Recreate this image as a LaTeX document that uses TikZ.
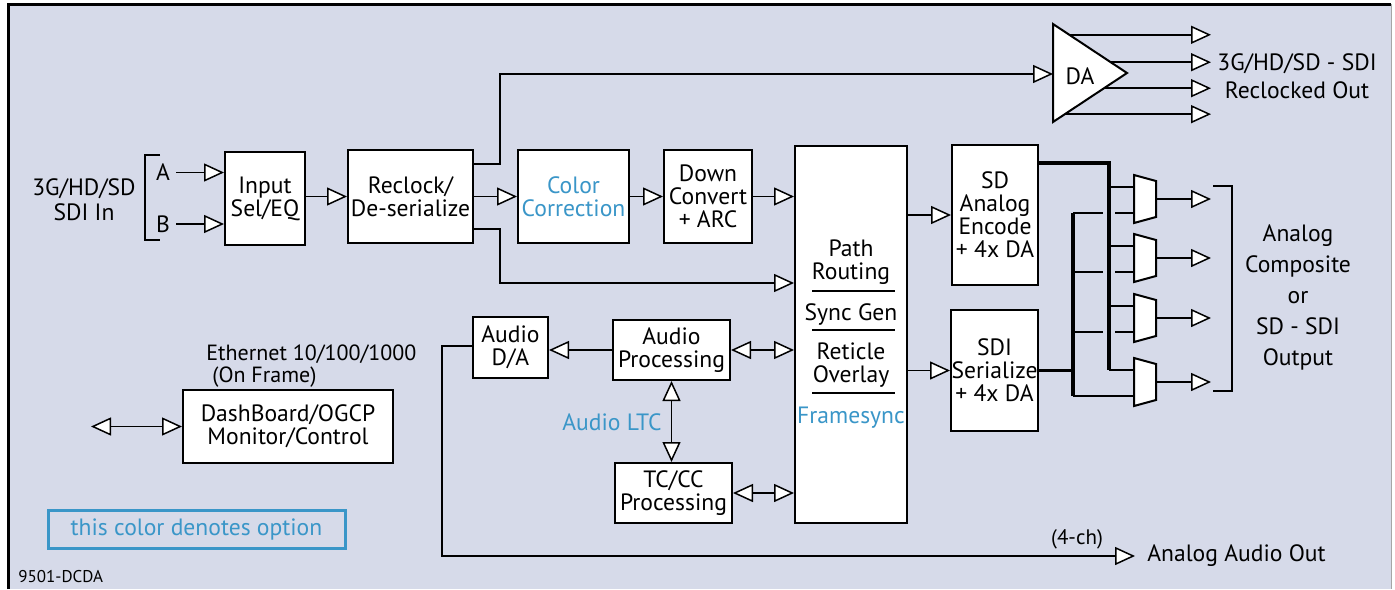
\documentclass[tikz,border=0pt]{standalone}
\usepackage{fontspec}
\setmainfont{PT Sans}
\usetikzlibrary{arrows.meta,calc}
\definecolor{bgpanel}{HTML}{D6DAE9}
\definecolor{optblue}{HTML}{3A96C8}
\newcommand\dgfont{\fontsize{11.8}{11.5}\selectfont}
\begin{document}
\begin{tikzpicture}[x=0.5pt, y=-0.5pt, line join=miter, >={Triangle[fill=white,length=10pt,width=9pt]},
  blk/.style={draw, fill=white, line width=1pt, align=center, inner sep=0pt, font=\dgfont},
  txt/.style={align=center, inner sep=0pt, font=\dgfont},
  wire/.style={line width=0.75pt},
  bus/.style={line width=1.6pt},
  opt/.style={text=optblue}]
\useasboundingbox (0,0) rectangle (1395,589);
\fill[bgpanel] (8,4) rectangle (1391,589);
\draw[line width=1.5pt] (8,589) -- (8,4) -- (1391,4);
\draw[gray!70, line width=0.5pt] (1391,4) -- (1391,589);

\node[blk, minimum width=40pt, minimum height=46.5pt] (insel) at (265,198.5) {Input\\Sel/EQ};
\node[blk, minimum width=62.5pt, minimum height=46.5pt] (reclk) at (410.5,196.5) {Reclock/\\De-serialize};
\node[blk, opt, minimum width=55.5pt, minimum height=46.5pt] (colcor) at (573.5,196.5) {Color\\Correction};
\node[blk, minimum width=44pt, minimum height=46.5pt] (downc) at (708,196.5) {Down\\Convert\\+ ARC};
\node[blk, minimum width=56pt, minimum height=188.5pt] (route) at (851,334.5) {};
\node[blk, minimum width=43pt, minimum height=70pt] (sdenc) at (995,215) {SD\\Analog\\Encode\\+ 4x DA};
\node[blk, minimum width=43.5pt, minimum height=60.5pt] (sdiser) at (994.5,370.5) {SDI\\Serialize\\+ 4x DA};
\node[blk, minimum width=37.5pt, minimum height=30.5pt] (auda) at (510.5,347.5) {Audio\\D/A};
\node[blk, minimum width=58.5pt, minimum height=30pt] (audp) at (671.5,350) {Audio\\Processing};
\node[blk, minimum width=58.5pt, minimum height=30pt] (tccc) at (673.5,493) {TC/CC\\Processing};
\node[blk, minimum width=105pt, minimum height=36.5pt] (dash) at (288,426.5) {DashBoard/OGCP\\Monitor/Control};

\node[txt] (rt1) at (851,262) {Path\\Routing};
\node[txt] (rt2) at (851,315) {Sync Gen};
\node[txt] (rt3) at (851,365) {Reticle\\Overlay};
\node[txt, opt] (rt4) at (851,418) {Framesync};
\foreach \y in {291,330,393} \draw[wire] (812,\y) -- (895,\y);

\node[txt, font=\fontsize{11.8}{12.5}\selectfont] (sdiin) at (84,200) {3G/HD/SD\\SDI In};
\node[txt, inner xsep=3pt] (la) at (163,172.5) {A};
\node[txt, inner xsep=3pt] (lb) at (163,224) {B};
\draw[wire] (160,155) -- (145,155) -- (145,240) -- (160,240);
\draw[wire,->] (la.east) -- (insel.west |- la.east);
\draw[wire,->] (lb.east) -- (insel.west |- lb.east);
\draw[wire,->] (insel.east |- reclk) -- (reclk.west);
\draw[wire,->] (reclk) -- (colcor);
\draw[wire,->] (colcor) -- (downc);
\draw[wire,->] (downc.east) -- (route.west |- downc.east);

\coordinate (datop) at (1053,24);
\coordinate (dabot) at (1053,122);
\coordinate (daapex) at (1127,73);
\coordinate (dain) at (1053,74);
\coordinate (daend) at (1211,0);
\foreach \e/\t in {datop/0.22, datop/0.78, dabot/0.69, dabot/0.16}{
  \path ($(\e)!\t!(daapex)$) coordinate (p);
  \draw[wire,->] (p) -- (p -| daend);
}
\draw[line width=1pt, fill=white] (datop) -- (daapex) -- (dabot) -- cycle;
\node[txt] (da) at (1080,76) {DA};
\node[txt, font=\fontsize{11.8}{14}\selectfont] (rcout) at (1297,76) {3G/HD/SD - SDI\\Reclocked Out};
\draw[wire,->] (reclk.east |- 0,164) -- (500,164) |- (dain);
\draw[wire,->] (reclk.east |- 0,229) -- (500,229) |- (route.west |- 0,283);

\draw[wire,->] (route.east |- sdenc) -- (sdenc.west);
\draw[wire,->] (route.east |- sdiser) -- (sdiser.west);
\draw[wire,<->] (audp.east) -- (route.west |- audp.east);
\draw[wire,<->] (tccc.east) -- (route.west |- tccc.east);
\draw[wire,->] (audp.west) -- (auda.east |- audp.west);
\draw[wire,<->] (audp.south) -- (tccc.north -| audp.south);
\node[txt, opt] (ltc) at (612,422) {Audio LTC};

\node[txt, anchor=west, inner xsep=6pt] (aout) at (1135,556) {Analog Audio Out};
\node[txt, font=\fontsize{10.5}{11}\selectfont] (ch) at (1077,539) {(4-ch)};
\draw[wire,->] (auda.west |- 0,346) -- (442,346) |- (aout.west);

\node[txt, anchor=west, align=left, font=\fontsize{11}{11}\selectfont] (eth) at (206,366) {Ethernet 10/100/1000\\\hspace*{3pt}(On Frame)};
\coordinate (ethl) at (91,426.5);
\draw[wire,<->] (ethl) -- (dash.west);

\node[txt, opt, draw=optblue, line width=1.5pt, minimum width=148.5pt, minimum height=19pt] (legend) at (196.5,529) {this color denotes option};
\node[txt, anchor=west, font=\fontsize{8.5}{9}\selectfont] (tag) at (18,577) {9501-DCDA};

\foreach \n/\y in {1/199, 2/258, 3/318, 4/382}{
  \draw[line width=1pt, fill=white] (1134,\y-24) -- (1156,\y-18) -- (1156,\y+18) -- (1134,\y+24) -- cycle;
  \coordinate (m\n-a) at (1134,\y-12);
  \coordinate (m\n-b) at (1134,\y+14);
  \coordinate (m\n-o) at (1156,\y);
  \draw[wire,->] (m\n-o) -- (1211,\y);
}
\draw[bus] (sdenc.east |- 0,163) -- (1109,163) -- (1109,370);
\draw[wire] (1109,370) -- (m4-a);
\foreach \n in {1,2,3} \draw[wire] (1109,0 |- m\n-a) -- (m\n-a);
\draw[bus] (sdiser.east) -- (1073,370.5);
\draw[bus] (1073,0 |- m1-b) -- (1073,0 |- m4-b);
\foreach \n in {1,2,3}{
  \draw[wire] (1073,0 |- m\n-b) -- (1103,0 |- m\n-b);
  \draw[wire] (1115,0 |- m\n-b) -- (m\n-b);
}
\draw[wire] (1073,0 |- m4-b) -- (m4-b);
\draw[wire] (1213,186) -- (1232,186) -- (1232,391) -- (1213,391);
\node[txt, font=\fontsize{11.8}{15.5}\selectfont] (aclab) at (1298,297) {Analog\\Composite\\or\\SD - SDI\\Output};
\end{tikzpicture}
\end{document}
